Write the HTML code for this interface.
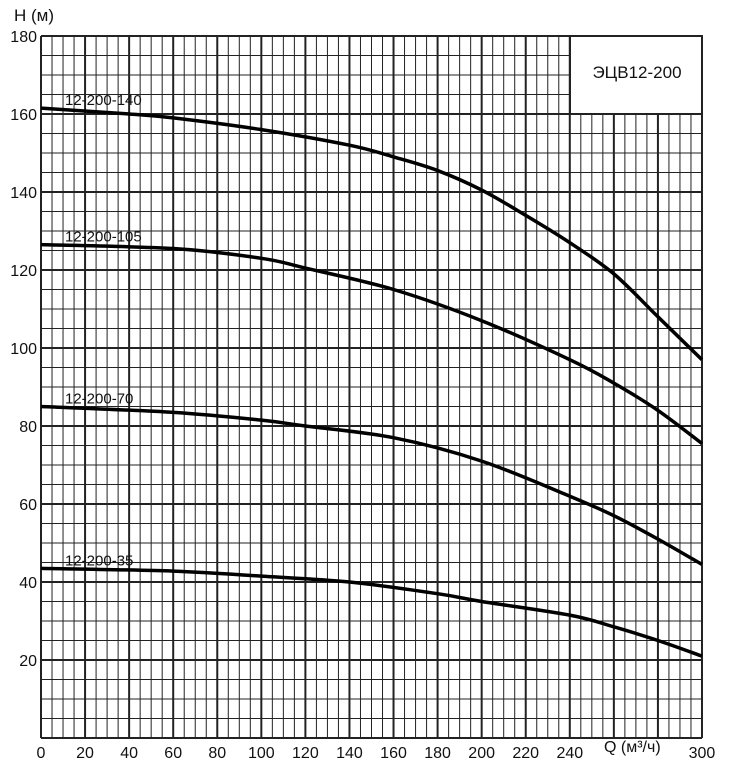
<!DOCTYPE html>
<html><head><meta charset="utf-8"><style>
html,body{margin:0;padding:0;background:#fff;width:737px;height:768px;overflow:hidden}
svg text{font-family:"Liberation Sans",Arial,sans-serif;fill:#111}
</style></head><body>
<svg id="s" width="737" height="768" xmlns="http://www.w3.org/2000/svg">
<text x="14" y="21" font-size="17">H (м)</text>
<text x="604" y="752" font-size="16">Q (м³/ч)</text>
</svg>
<script>
const s=document.getElementById('s'),NS='http://www.w3.org/2000/svg';
const X=q=>41+q*2.2033,Y=h=>738-h*3.9;
function el(t,a,txt){const e=document.createElementNS(NS,t);for(const k in a)e.setAttribute(k,a[k]);if(txt!==undefined)e.textContent=txt;s.appendChild(e);return e;}
for(let q=0;q<=300;q+=5){const maj=q%20==0;el('line',{x1:X(q),x2:X(q),y1:Y(180),y2:Y(0),stroke:'#222','stroke-width':maj?2:1});}
for(let h=0;h<=180;h+=5){const maj=h%20==0;el('line',{x1:X(0),x2:X(300),y1:Y(h),y2:Y(h),stroke:'#222','stroke-width':maj?2:1});}
el('rect',{x:570,y:Y(180),width:X(300)-570,height:Y(160)-Y(180),fill:'#fff',stroke:'#222','stroke-width':2});
el('text',{x:637,y:78,'font-size':17,'text-anchor':'middle'},'ЭЦВ12-200');
for(let h=20;h<=180;h+=20){el('text',{x:37,y:Y(h)+6,'font-size':16,'text-anchor':'end'},h);}
for(let q=0;q<=300;q+=20){if(q==260||q==280)continue;el('text',{x:X(q),y:758,'font-size':16,'text-anchor':'middle'},q);}
const curves=[
[[0,161.5],[40,160],[60,159],[100,156],[140,152],[160,149],[180,145.5],[200,140.5],[220,134],[240,127],[260,119],[280,108],[300,97]],
[[0,126.5],[60,125.5],[100,123],[120,120.5],[160,115],[200,107],[240,97],[260,91],[280,84],[300,75.5]],
[[0,85],[60,83.5],[100,81.5],[120,80],[160,77],[200,71],[240,62],[260,57],[280,51],[300,44.5]],
[[0,43.5],[60,42.8],[100,41.5],[140,40],[180,37],[200,35],[240,31.5],[260,28.5],[280,25],[300,21]]];
const names=['12-200-140','12-200-105','12-200-70','12-200-35'];
curves.forEach((c,i)=>{
 const p=c.map(([q,h])=>[X(q),Y(h)]);
 let d='M'+p[0][0]+','+p[0][1];
 for(let k=0;k<p.length-1;k++){const p0=p[k-1]||p[k],p1=p[k],p2=p[k+1],p3=p[k+2]||p2;
  d+=` C${p1[0]+(p2[0]-p0[0])/6},${p1[1]+(p2[1]-p0[1])/6} ${p2[0]-(p3[0]-p1[0])/6},${p2[1]-(p3[1]-p1[1])/6} ${p2[0]},${p2[1]}`;}
 el('path',{d:d,fill:'none',stroke:'#000','stroke-width':3.5});
 el('text',{x:65,y:Y(c[0][1])-3,'font-size':15},names[i]);
});
</script>
</body></html>
